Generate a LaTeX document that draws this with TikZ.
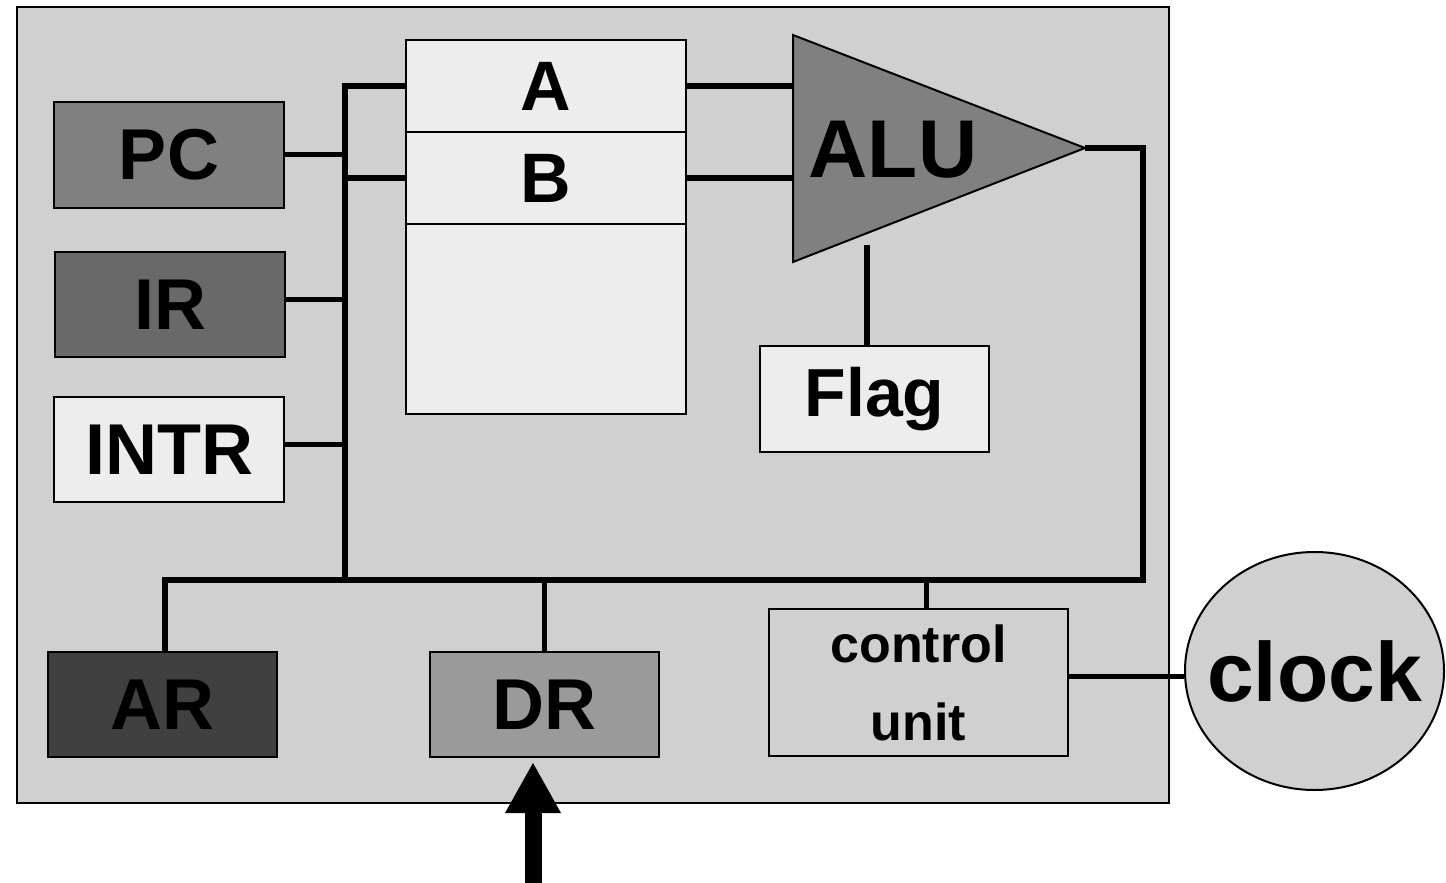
\documentclass[tikz,border=0pt]{standalone}
\usepackage{fontspec}
\setmainfont{Liberation Sans}
\usetikzlibrary{arrows.meta,positioning,shapes.geometric}

\definecolor{panelgray}{HTML}{D0D0D0}
\definecolor{cellgray}{HTML}{EDEDED}
\definecolor{midgray}{HTML}{808080}
\definecolor{irgray}{HTML}{696969}
\definecolor{argray}{HTML}{404040}
\definecolor{drgray}{HTML}{9A9A9A}

\begin{document}
\begin{tikzpicture}[
    x=1pt, y=-1pt,
    box/.style={rectangle, draw=black, line width=2pt, inner sep=0pt,
        minimum width=230pt, minimum height=106pt,
        font=\fontsize{72}{86}\selectfont\bfseries},
    regcell/.style={rectangle, draw=black, line width=2pt, fill=cellgray, inner sep=0pt,
        outer sep=0pt, minimum width=280pt, font=\fontsize{70}{84}\selectfont\bfseries},
    bus/.style={line width=5.5pt},
    feed/.style={-{Triangle[length=51pt,width=52pt]}, line width=17pt, shorten >=4pt}
]
\useasboundingbox (0,0) rectangle (1446,883);
\filldraw[fill=panelgray, draw=black, line width=2pt] (17,7) rectangle (1169,803);

% registers on the left
\node[box, fill=midgray] (pc) at (169,154.5) {PC};
\node[box, fill=irgray, minimum height=105pt] (ir) at (170,304.5) {IR};
\node[box, fill=cellgray, minimum height=105pt] (intr) at (169,449.5) {INTR};

% register file
\node[regcell, minimum height=92pt] (rega) at (546,86) {A};
\node[regcell, minimum height=92pt, below=0pt of rega] (regb) {B};
\node[regcell, minimum height=190pt, below=0pt of regb] (regrest) {};

% ALU
\coordinate (alunw) at (793,35);
\coordinate (alusw) at (793,262);
\coordinate (alutip) at (1085,148);
\filldraw[fill=midgray, draw=black, line width=2pt] (alunw) -- (alutip) -- (alusw) -- cycle;
\node[font=\fontsize{82}{98}\selectfont\bfseries, inner sep=0pt] (alu) at (893,150) {ALU};
\node[box, fill=cellgray, minimum width=229pt, font=\fontsize{68}{82}\selectfont\bfseries] (flag) at (874.5,399) {Flag};

% bottom row
\node[box, fill=argray, minimum width=229pt, minimum height=105pt] (ar) at (162.5,704.5) {AR};
\node[box, fill=drgray, minimum width=229pt, minimum height=105pt] (dr) at (544.5,704.5) {DR};
\node[box, fill=panelgray, minimum width=299pt, minimum height=147pt, align=center,
    font=\fontsize{52}{78}\selectfont\bfseries] (cu) at (918.5,682.5) {control\\unit};
\node[ellipse, draw=black, line width=2pt, fill=panelgray, inner sep=0pt,
    minimum width=259pt, minimum height=238pt] (clock) at (1314.5,671) {};
\node[font=\fontsize{84}{100}\selectfont\bfseries, inner sep=0pt] (clocktext) at (clock.center) {clock};

% buses
\coordinate (lbus) at (345,580);
\coordinate (rbus) at (1143,580);
\coordinate (aluflag) at (867,245);
\coordinate (drfeed) at (533,883);

\draw[bus] (rega.west) -| (lbus);
\draw[bus] (regb.west) -- (regb.west -| lbus);
\draw[bus] (pc.east) -- (pc.east -| lbus);
\draw[bus] ([yshift=5pt]ir.east) -- ([yshift=5pt]ir.east -| lbus);
\draw[bus] ([yshift=5pt]intr.east) -- ([yshift=5pt]intr.east -| lbus);
\draw[bus] (rega.east) -- (rega.east -| alunw);
\draw[bus] (regb.east) -- (regb.east -| alunw);
\draw[bus] (aluflag) -- (aluflag |- flag.north);
\draw[bus] (alutip) -| (rbus) -- ([xshift=2.5pt]ar.north |- rbus) -- ([xshift=2.5pt]ar.north);
\draw[bus] (dr.north |- lbus) -- (dr.north);
\draw[bus] ([xshift=8pt]cu.north |- rbus) -- ([xshift=8pt]cu.north);
\draw[bus] ([yshift=6pt]cu.east) -- ([yshift=6pt]cu.east -| clock.west);

% data in
\draw[feed] (drfeed) -- (drfeed |- dr.south);
\end{tikzpicture}
\end{document}
